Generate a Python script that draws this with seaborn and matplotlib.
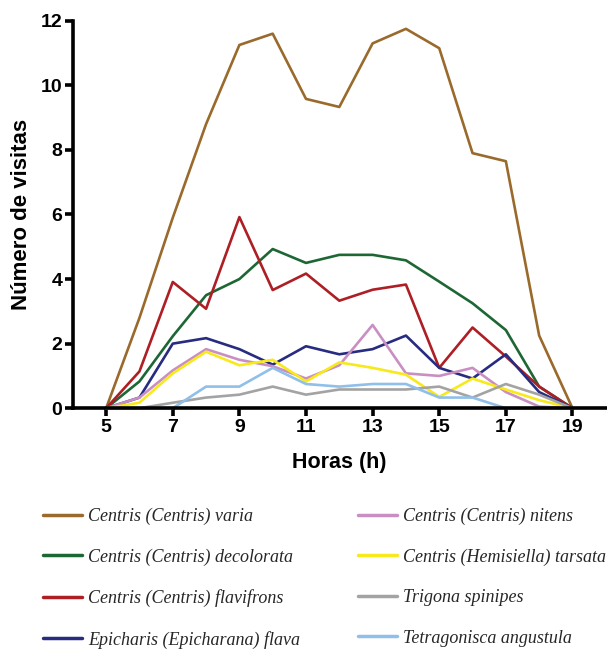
import matplotlib
matplotlib.use("Agg")
import matplotlib.pyplot as plt
import seaborn as sns
import pandas as pd

hours = list(range(5, 20))

species = [
    "Centris (Centris) varia",
    "Centris (Centris) decolorata",
    "Centris (Centris) flavifrons",
    "Epicharis (Epicharana) flava",
    "Centris (Centris) nitens",
    "Centris (Hemisiella) tarsata",
    "Trigona spinipes",
    "Tetragonisca angustula",
]

varia = [0, 2.8, 5.9, 8.8, 11.25, 11.6, 9.58, 9.33, 11.3, 11.75, 11.15, 7.9, 7.65, 2.25, 0]
decolorata = [0, 0.83, 2.23, 3.5, 4.0, 4.93, 4.5, 4.75, 4.75, 4.58, 3.92, 3.25, 2.42, 0.67, 0]
flavifrons = [0, 1.14, 3.91, 3.08, 5.92, 3.66, 4.17, 3.33, 3.67, 3.83, 1.25, 2.5, 1.6, 0.67, 0]
flava = [0, 0.33, 2.0, 2.17, 1.83, 1.35, 1.92, 1.67, 1.83, 2.25, 1.25, 0.92, 1.67, 0.5, 0]
nitens = [0, 0.33, 1.17, 1.83, 1.5, 1.3, 0.92, 1.33, 2.58, 1.08, 1.0, 1.25, 0.5, 0.05, 0]
tarsata = [0, 0.17, 1.08, 1.75, 1.33, 1.5, 0.83, 1.42, 1.25, 1.04, 0.35, 0.92, 0.58, 0.25, 0]
spinipes = [0, 0, 0.17, 0.33, 0.42, 0.67, 0.42, 0.58, 0.58, 0.58, 0.67, 0.33, 0.75, 0.42, 0]
angustula = [0, 0, 0, 0.67, 0.67, 1.25, 0.75, 0.67, 0.75, 0.75, 0.33, 0.33, 0, 0, 0]

colors = ["#9a6a2c", "#1d6734", "#ad1f25", "#282c80", "#c98fc3", "#f7e91a", "#a3a3a3", "#90bfe9"]

series = [varia, decolorata, flavifrons, flava, nitens, tarsata, spinipes, angustula]
rows = []
for name, vals in zip(species, series):
    for h, v in zip(hours, vals):
        rows.append({"hora": h, "visitas": v, "especie": name})
df = pd.DataFrame(rows)

sns.set_style("ticks")
plt.rcParams["font.family"] = ["Liberation Sans", "DejaVu Sans"]

fig = plt.figure(figsize=(6.07, 6.49), dpi=100)
ax = fig.add_axes([0.12, 0.371, 0.878, 0.597])

sns.lineplot(data=df, x="hora", y="visitas", hue="especie", hue_order=species,
             palette=dict(zip(species, colors)), linewidth=1.9, ax=ax, clip_on=False)

ax.set_xlim(4, 20)
ax.set_ylim(0, 12)
ax.set_xticks(range(5, 20, 2))
ax.set_yticks(range(0, 13, 2))
sns.despine(ax=ax)
for s in ["left", "bottom"]:
    ax.spines[s].set_linewidth(2.6)
    ax.spines[s].set_color("black")
ax.tick_params(direction="out", length=5.5, width=2.6, labelsize=14, pad=2,
               color="black", labelcolor="black")
for lab in ax.get_xticklabels() + ax.get_yticklabels():
    lab.set_fontweight("bold")
ax.set_xlabel("Horas (h)", fontsize=15.5, fontweight="bold", labelpad=12, color="black")
ax.set_ylabel("Número de visitas", fontsize=16, fontweight="bold", labelpad=6, color="black")

sns.move_legend(ax, loc="upper left", bbox_to_anchor=(-0.086, -0.215), ncol=2,
                frameon=False, title=None, columnspacing=3.2, handlelength=2.15,
                handletextpad=0.35, labelspacing=1.3,
                prop={"family": "Liberation Serif", "style": "italic", "size": 13})
for line in ax.get_legend().get_lines():
    line.set_linewidth(2.5)

fig.savefig("out.png", dpi=100)
